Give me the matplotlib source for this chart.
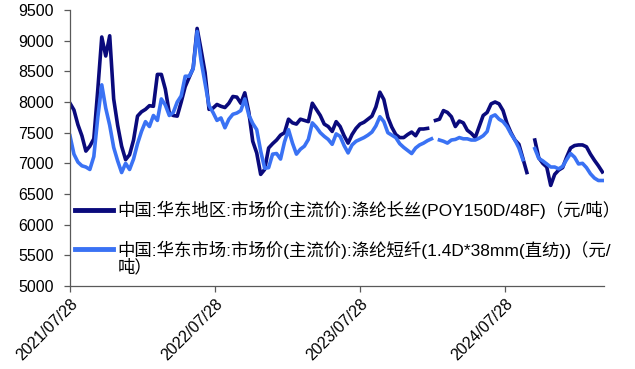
import numpy as np
import pandas as pd
import matplotlib
matplotlib.use("Agg")
import matplotlib.pyplot as plt
import matplotlib.dates as mdates

plt.rcParams['font.family'] = ['Liberation Sans', 'Noto Sans CJK SC']

# 10-day sampling, starting 2021/07/28
dates = pd.date_range('2021-07-28', periods=135, freq='10D')

# 涤纶长丝 POY150D/48F, 华东地区 (元/吨)
poy = [7980, 7870, 7630, 7450, 7200, 7280, 7400, 8200, 9060, 8750,
       9080, 8050, 7620, 7280, 7060, 7140, 7380, 7770, 7840, 7880,
       7940, 7930, 8450, 8450, 8210, 7820, 7780, 7770, 8000, 8250,
       8400, 8550, 9200, 8850, 8480, 7880, 7900, 7960, 7930, 7910,
       7980, 8090, 8080, 7980, 8150, 7840, 7360, 7170, 6820, 6900,
       7250, 7320, 7380, 7460, 7500, 7720, 7660, 7640, 7720, 7700,
       7680, 7980, 7880, 7780, 7640, 7600, 7520, 7680, 7600, 7450,
       7330, 7470, 7570, 7640, 7670, 7720, 7770, 7920, 8160, 8040,
       7750, 7590, 7470, 7420, 7420, 7470, 7510, 7450, 7560, 7560,
       7570, np.nan, 7700, 7720, 7860, 7830, 7760, 7600, 7690, 7660,
       7540, 7490, 7420, 7600, 7780, 7830, 7970, 8000, 7970, 7860,
       7650, 7500, 7380, 7310, 7080, 6850, np.nan, 7380, 7090, 7000,
       6940, 6640, 6820, 6890, 6930, 7100, 7250, 7290, 7300, 7300,
       7270, 7150, 7050, 6960, 6860]

# 涤纶短纤 1.4D*38mm 直纺, 华东市场 (元/吨)
psf = [7450, 7150, 7020, 6960, 6940, 6900, 7110, 7750, 8280, 7900,
       7620, 7260, 7040, 6850, 7000, 6900, 7070, 7320, 7520, 7680,
       7600, 7780, 7700, 8050, 7950, 7780, 7830, 8000, 8100, 8420,
       8420, 8540, 9150, 8670, 8300, 7940, 7830, 7700, 7740, 7580,
       7720, 7800, 7820, 7860, 8050, 7790, 7650, 7550, 7200, 6920,
       6930, 7150, 7160, 7070, 7350, 7550, 7330, 7150, 7230, 7280,
       7390, 7660, 7590, 7500, 7440, 7390, 7310, 7480, 7440, 7290,
       7170, 7300, 7360, 7390, 7420, 7460, 7510, 7610, 7760, 7680,
       7500, 7460, 7420, 7320, 7260, 7210, 7160, 7250, 7300, 7330,
       7370, 7400, np.nan, 7380, 7360, 7330, 7380, 7390, 7420, 7400,
       7400, 7380, 7380, 7410, 7450, 7520, 7760, 7790, 7720, 7680,
       7600, 7480, 7380, 7250, 7060, np.nan, np.nan, 7240, 7080, 7040,
       6990, 6940, 6940, 6910, 6950, 7060, 7160, 7100, 6990, 7000,
       6930, 6830, 6760, 6720, 6720]

label_poy = '中国:华东地区:市场价(主流价):涤纶长丝(POY150D/48F)（元/吨）'
label_psf = '中国:华东市场:市场价(主流价):涤纶短纤(1.4D*38mm(直纺))（元/\n吨）'

fig = plt.figure(figsize=(6.35, 3.69), dpi=100)
ax = fig.add_axes([0.1102, 0.2249, 0.8409, 0.748])

ax.plot(dates, poy, color='#0a0a7c', lw=2.6, label=label_poy)
ax.plot(dates, psf, color='#3a72f4', lw=2.6, label=label_psf)

ax.set_ylim(5000, 9500)
ax.set_yticks(np.arange(5000, 9501, 500))
ax.set_xlim(pd.Timestamp('2021-07-28'), pd.Timestamp('2025-04-02'))
ax.set_xticks(pd.to_datetime(['2021-07-28', '2022-07-28', '2023-07-28', '2024-07-28']))
ax.xaxis.set_major_formatter(mdates.DateFormatter('%Y/%m/%d'))
plt.setp(ax.get_xticklabels(), rotation=45, ha='right', rotation_mode='anchor')

for s in ['top', 'right']:
    ax.spines[s].set_visible(False)
for s in ['left', 'bottom']:
    ax.spines[s].set_color('#595959')
    ax.spines[s].set_linewidth(0.9)
ax.tick_params(axis='both', labelsize=11.5, length=4, width=0.9, color='#595959')
ax.tick_params(axis='y', pad=7.5)

leg = ax.legend(loc='lower left', bbox_to_anchor=(0.009, 0.04), frameon=False,
                fontsize=12.5, handlelength=2.2, handletextpad=0.25,
                labelspacing=1.25, borderpad=0, borderaxespad=0)
for t in leg.get_texts():
    t.set_linespacing(0.95)
lines = leg.get_lines()
for h in lines:
    h.set_linewidth(3.5)
# keep the second handle level with the first line of its label
lines[1].set_ydata(np.asarray(lines[1].get_ydata()) + 6.5)

fig.savefig('out.png', dpi=100)
